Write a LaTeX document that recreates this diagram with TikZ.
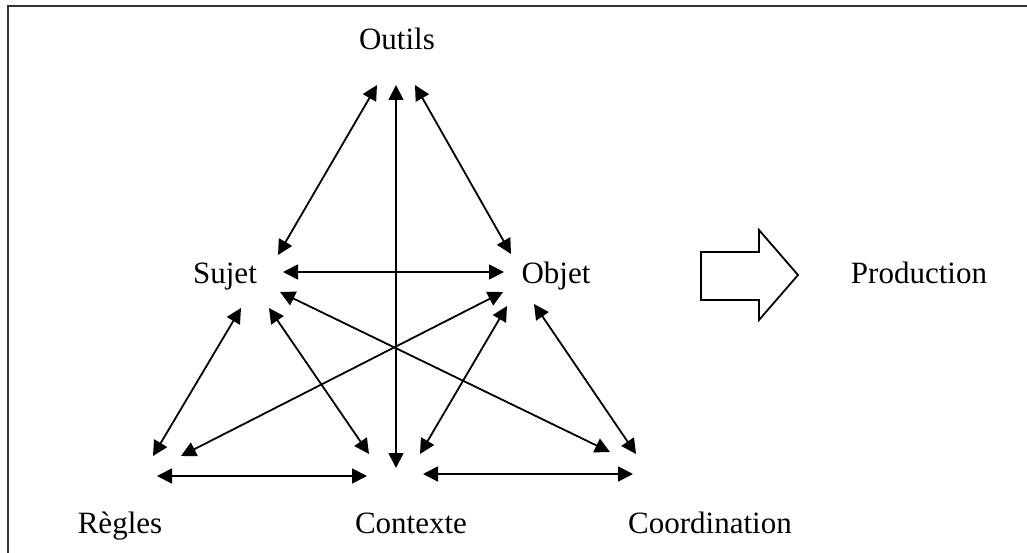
\documentclass[tikz,border=0pt]{standalone}
\usepackage{fontspec}
\setmainfont{Liberation Serif}
\usetikzlibrary{arrows.meta}
\begin{document}
\begin{tikzpicture}[x=1pt,y=-1pt,
  lbl/.style={font=\fontsize{31}{36}\selectfont, inner sep=0pt, anchor=base},
  link/.style={line width=1.8pt, {Triangle[length=15pt,width=15pt]}-{Triangle[length=15pt,width=15pt]}},
  frameline/.style={line width=2pt, draw=black!80}]
\useasboundingbox (0,0) rectangle (1027,553);
\draw[frameline] (1027,6) -- (8,6) -- (8,553);
% labels
\node[lbl] (outils) at (397,50) {Outils};
\node[lbl] (sujet) at (225,283) {Sujet};
\node[lbl] (objet) at (556,283) {Objet};
\node[lbl] (prod) at (919,283) {Production};
\node[lbl] (regles) at (120,533) {Règles};
\node[lbl] (contexte) at (411,533) {Contexte};
\node[lbl] (coord) at (710,533) {Coordination};
% endpoints
\coordinate (oS) at (377,85);
\coordinate (oC) at (396,85);
\coordinate (oO) at (415,85);
\coordinate (sO) at (278,255);
\coordinate (sH) at (283,272);
\coordinate (sK) at (280,292);
\coordinate (sR) at (241,308);
\coordinate (sC) at (269,308);
\coordinate (jO) at (511,254);
\coordinate (jH) at (504,272);
\coordinate (jR) at (503,292);
\coordinate (jC) at (507,306);
\coordinate (jK) at (534,304);
\coordinate (rS) at (153,456);
\coordinate (rO) at (181,456);
\coordinate (rH) at (157,476);
\coordinate (cS) at (369,454);
\coordinate (cO) at (396,468);
\coordinate (cJ) at (420,454);
\coordinate (cR) at (367,476);
\coordinate (cK) at (423,474);
\coordinate (kS) at (610,452);
\coordinate (kJ) at (636,454);
\coordinate (kC) at (633,474);
% connectors
\draw[link] (oS) -- (sO);
\draw[link] (oC) -- (cO);
\draw[link] (oO) -- (jO);
\draw[link] (sH) -- (jH);
\draw[link] (sK) -- (kS);
\draw[link] (jR) -- (rO);
\draw[link] (sR) -- (rS);
\draw[link] (sC) -- (cS);
\draw[link] (jC) -- (cJ);
\draw[link] (jK) -- (kJ);
\draw[link] (rH) -- (cR);
\draw[link] (cK) -- (kC);
% block arrow
\draw[line width=1.8pt, line join=miter] (701,252) -- (759,252) -- (759,230) -- (798,275) -- (759,320) -- (759,300) -- (701,300) -- cycle;
\end{tikzpicture}
\end{document}
